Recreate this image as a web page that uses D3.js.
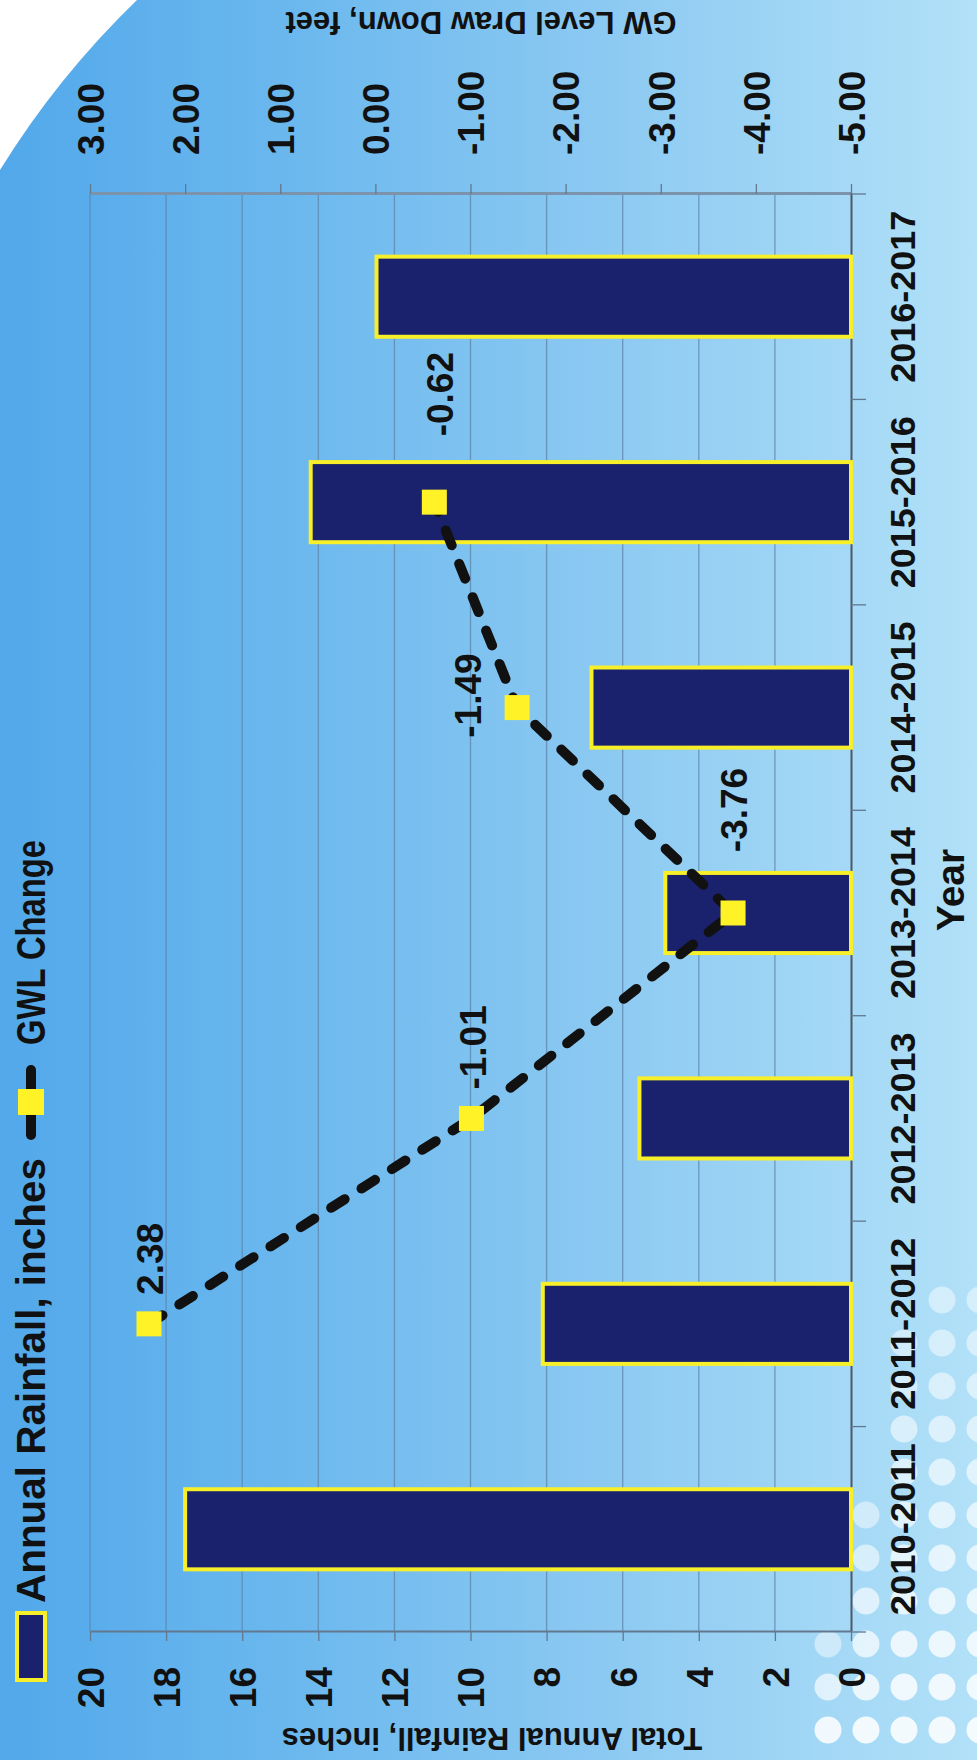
<!DOCTYPE html>
<html><head><meta charset="utf-8">
<script src="https://cdn.jsdelivr.net/npm/d3@7"></script>
<style>html,body{margin:0;padding:0;background:#fff;} svg{display:block;}</style>
</head><body>
<svg id="chart" width="977" height="1760"></svg>
<script>
// ---------------- data ----------------
const categories = ["2010-2011","2011-2012","2012-2013","2013-2014","2014-2015","2015-2016","2016-2017"];
const rainfall = [17.5, 8.1, 5.56, 4.88, 6.82, 14.2, 12.47];
const gwlCategories = ["2011-2012","2012-2013","2013-2014","2014-2015","2015-2016"];
const gwlChange = [2.38, -1.01, -3.76, -1.49, -0.62];
const rainTicks = [0,2,4,6,8,10,12,14,16,18,20];
const gwTicks = [3,2,1,0,-1,-2,-3,-4,-5];
const legendLabels = ["Annual Rainfall, inches","GWL Change"];
const axisTitles = {rain:"Total Annual Rainfall, inches", gw:"GW Level Draw Down, feet", x:"Year"};

// ---------------- layout (not data) ----------------
const labelOffsets = [[65,1],[71,1],[103,1],[12,-49],[108,5]];
const W = 977, H = 1760;
const FONT = "'Liberation Sans', Arial, sans-serif";
const NAVY = "#1a226e", YEL = "#f7ef2a", INK = "#111";

const svg = d3.select("#chart");
const defs = svg.append("defs");
const grad = defs.append("linearGradient").attr("id","bg")
  .attr("x1","0").attr("y1","0").attr("x2","1").attr("y2","0");
[[0,"#52a8ea"],[0.3,"#6bb8ee"],[0.65,"#8fcbf2"],[1,"#b2e1f8"]].forEach(([o,c]) =>
  grad.append("stop").attr("offset",o).attr("stop-color",c));
svg.append("rect").attr("width",W).attr("height",H).attr("fill","url(#bg)");

// decorative dots (bottom-right of the slide)
const dotCols = [[828,1640],[866,1500],[904,1330],[942,1290],[980,1290]];
const dots = [];
dotCols.forEach(([cx,minY]) => {
  for (let cy = 1730; cy >= minY; cy -= 43) {
    const t = (cy - minY) / Math.max(1, 1730 - minY);
    dots.push({cx, cy, o: 0.45 + 0.4 * t});
  }
});
svg.append("g").selectAll("circle").data(dots).join("circle")
  .attr("cx", d => d.cx).attr("cy", d => d.cy).attr("r", 13.5)
  .attr("fill", "#fff").attr("opacity", d => d.o);

// white corner of the slide
svg.append("path").attr("d","M0,0 L137,0 A880,880 0 0 0 0,170 Z").attr("fill","#fff");

// ---------------- chart in its original (unrotated) frame ----------------
const g = svg.append("g").attr("transform", `translate(0,${H}) rotate(-90)`);
const plot = {left:128, right:1566, top:90, bottom:851};

const x = d3.scaleBand().domain(categories).range([plot.left, plot.right])
  .paddingInner(0.61).paddingOuter(0.305);
const yR = d3.scaleLinear().domain([0,20]).range([plot.bottom, plot.top]);
const yG = d3.scaleLinear().domain([-5,3]).range([plot.bottom, plot.top]);

// gridlines
g.append("g").selectAll("line").data(rainTicks.filter(d => d > 0)).join("line")
  .attr("x1", plot.left).attr("x2", plot.right)
  .attr("y1", d => yR(d)).attr("y2", d => yR(d))
  .attr("stroke", "#5d83a8").attr("stroke-opacity", 0.75).attr("stroke-width", 1.3);

// left axis (rainfall)
const axL = g.append("g").attr("transform", `translate(${plot.left},0)`)
  .call(d3.axisLeft(yR).tickValues(rainTicks).tickSize(9).tickSizeOuter(0).tickPadding(26).tickFormat(d => d));
axL.select(".domain").attr("stroke", "#62788f").attr("stroke-width", 2);
axL.selectAll(".tick line").attr("stroke", "#62788f").attr("stroke-width", 1.3);
axL.selectAll(".tick text").attr("font-family", FONT).attr("font-weight", "bold")
  .attr("font-size", 37).attr("fill", INK).attr("dy", "0.36em");

// right axis (GW level)
const axR = g.append("g").attr("transform", `translate(${plot.right},0)`)
  .call(d3.axisRight(yG).tickValues(gwTicks).tickSize(10).tickSizeOuter(0).tickPadding(29).tickFormat(d => d.toFixed(2)));
axR.select(".domain").attr("stroke", "#7b93ab").attr("stroke-width", 3);
axR.selectAll(".tick line").attr("stroke", "#62788f").attr("stroke-width", 1.3);
axR.selectAll(".tick text").attr("font-family", FONT).attr("font-weight", "bold")
  .attr("font-size", 37).attr("fill", INK).attr("dy", "0.36em");

// category axis
const axB = g.append("g").attr("transform", `translate(0,${plot.bottom})`)
  .call(d3.axisBottom(x).tickSize(0).tickSizeOuter(0));
axB.select(".domain").attr("stroke", "#4b5868").attr("stroke-width", 2);
axB.selectAll(".tick text").attr("font-family", FONT).attr("font-weight", "bold")
  .attr("font-size", 35).attr("fill", INK).attr("y", 64).attr("dy", 0)
  .attr("textLength", 172).attr("lengthAdjust", "spacingAndGlyphs");
// boundary tick marks between categories
axB.append("g").selectAll("line").data(d3.range(categories.length + 1)).join("line")
  .attr("x1", i => plot.left + i * x.step()).attr("x2", i => plot.left + i * x.step())
  .attr("y1", 0).attr("y2", 15).attr("stroke", "#62788f").attr("stroke-width", 1.3);

// bars
g.append("g").selectAll("rect").data(categories.map((c, i) => ({c, v: rainfall[i]}))).join("rect")
  .attr("x", d => x(d.c)).attr("width", x.bandwidth())
  .attr("y", d => yR(d.v)).attr("height", d => yR(0) - yR(d.v))
  .attr("fill", NAVY).attr("stroke", YEL).attr("stroke-width", 4);

// GWL line
const pts = gwlCategories.map((c, i) => ({c, v: gwlChange[i], px: x(c) + x.bandwidth() / 2, py: yG(gwlChange[i])}));
g.append("path").datum(pts)
  .attr("d", d3.line().x(d => d.px).y(d => d.py))
  .attr("fill", "none").attr("stroke", "#111").attr("stroke-width", 10)
  .attr("stroke-linecap", "round").attr("stroke-dasharray", "16 20");

// markers
g.append("g").selectAll("rect").data(pts).join("rect")
  .attr("x", d => d.px - 12.5).attr("y", d => d.py - 12.5)
  .attr("width", 25).attr("height", 25).attr("fill", "#fff226");

// data labels
g.append("g").selectAll("text").data(pts).join("text")
  .attr("x", (d, i) => d.px + labelOffsets[i][0]).attr("y", (d, i) => d.py + labelOffsets[i][1])
  .attr("dy", "0.36em").attr("text-anchor", "middle")
  .attr("font-family", FONT).attr("font-weight", "bold").attr("font-size", 37).attr("fill", INK)
  .text(d => d.v.toFixed(2));

// axis titles
g.append("text").attr("transform", "translate(32,492) rotate(-90)")
  .attr("text-anchor", "middle").attr("font-family", FONT).attr("font-weight", "bold")
  .attr("font-size", 31).attr("fill", INK).text(axisTitles.rain);
g.append("text").attr("transform", "translate(1748,481) rotate(-90)")
  .attr("text-anchor", "middle").attr("font-family", FONT).attr("font-weight", "bold")
  .attr("font-size", 31).attr("fill", INK).text(axisTitles.gw);
g.append("text").attr("x", 870).attr("y", 964)
  .attr("text-anchor", "middle").attr("font-family", FONT).attr("font-weight", "bold")
  .attr("font-size", 39).attr("fill", INK).text(axisTitles.x);

// legend
const lg = g.append("g");
lg.append("rect").attr("x", 80).attr("y", 17).attr("width", 67).attr("height", 28)
  .attr("fill", NAVY).attr("stroke", YEL).attr("stroke-width", 4);
lg.append("text").attr("x", 157).attr("y", 45)
  .attr("font-family", FONT).attr("font-weight", "bold").attr("font-size", 40).attr("fill", INK)
  .attr("textLength", 445).attr("lengthAdjust", "spacingAndGlyphs").text(legendLabels[0]);
lg.append("line").attr("x1", 625).attr("x2", 690).attr("y1", 31).attr("y2", 31)
  .attr("stroke", "#111").attr("stroke-width", 10).attr("stroke-linecap", "round");
lg.append("rect").attr("x", 645).attr("y", 18).attr("width", 26).attr("height", 26).attr("fill", "#fff226");
lg.append("text").attr("x", 715).attr("y", 45)
  .attr("font-family", FONT).attr("font-weight", "bold").attr("font-size", 40).attr("fill", INK)
  .attr("textLength", 205).attr("lengthAdjust", "spacingAndGlyphs").text(legendLabels[1]);
</script>
</body></html>
